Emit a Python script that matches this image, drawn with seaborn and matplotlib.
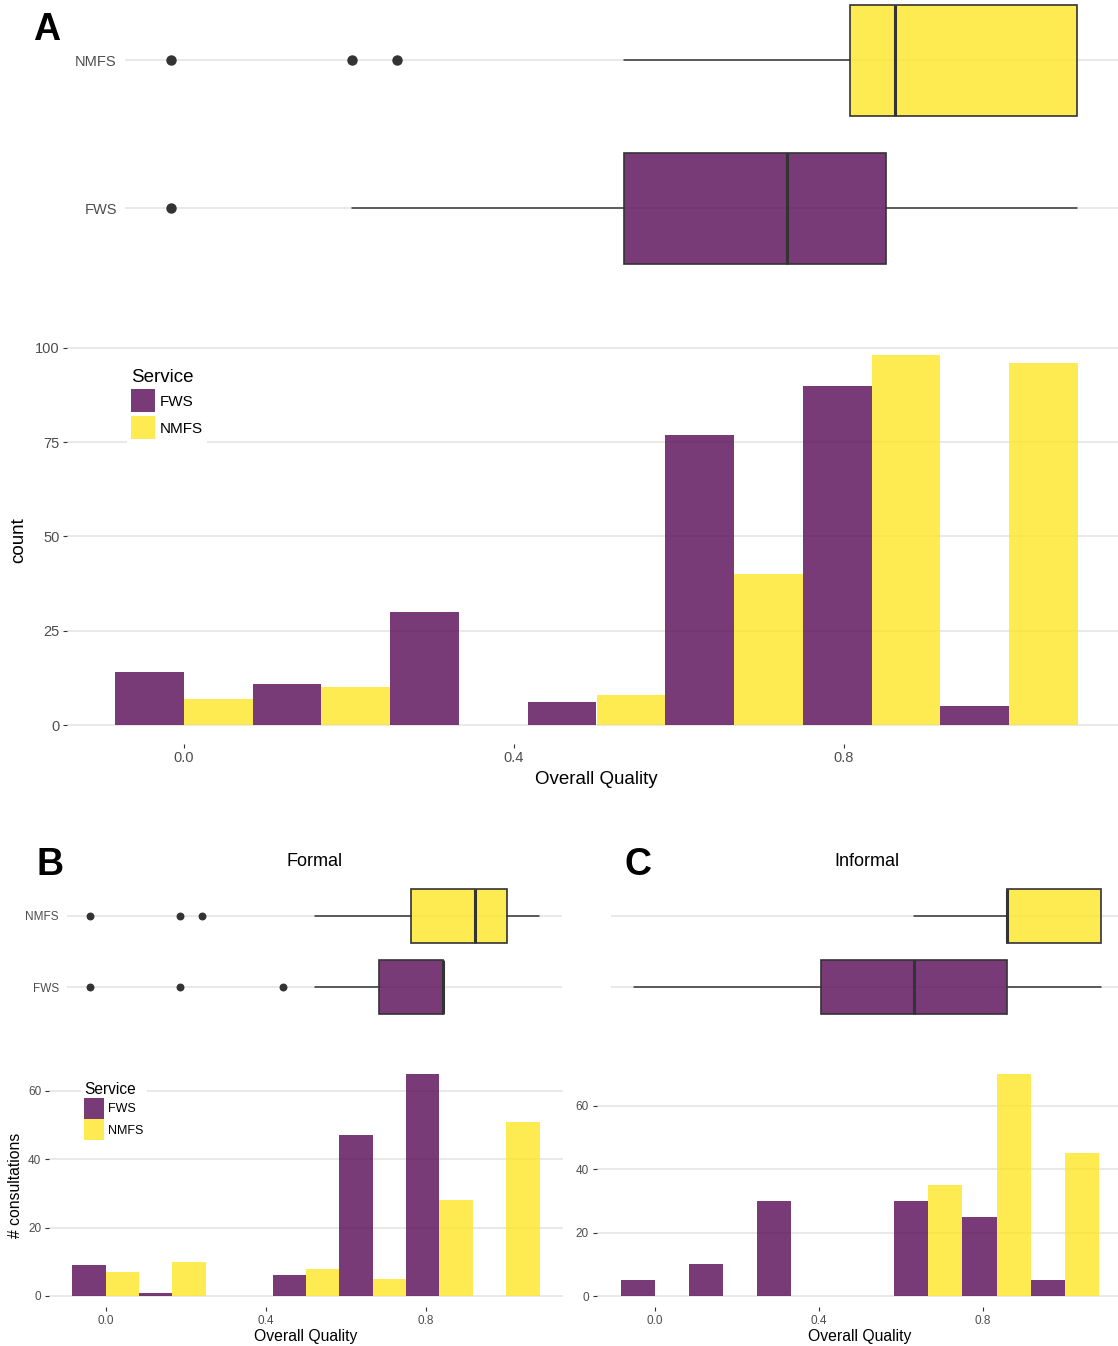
import numpy as np
import pandas as pd
import matplotlib
matplotlib.use("Agg")
import matplotlib.pyplot as plt
from matplotlib.patches import Patch
from matplotlib.colors import to_rgba
import seaborn as sns

# ---------------- data ----------------
services = ["FWS", "NMFS"]
bin_centers = [0, 1 / 6, 2 / 6, 3 / 6, 4 / 6, 5 / 6, 1]

# consultation counts per quality bin
all_fws = [14, 11, 30, 6, 77, 90, 5]
all_nmfs = [7, 10, 0, 8, 40, 98, 96]
formal_fws = [9, 1, 0, 6, 47, 65, 0]
formal_nmfs = [7, 10, 0, 8, 5, 28, 51]
informal_fws = [5, 10, 30, 0, 30, 25, 5]
informal_nmfs = [0, 0, 0, 0, 35, 70, 45]

# box summaries: [lower whisker, Q1, median, Q3, upper whisker]
all_box_fws = [0.20, 0.50, 0.68, 0.79, 1.00]
all_box_nmfs = [0.50, 0.75, 0.80, 1.00, 1.00]
formal_box_fws = [0.50, 0.643, 0.786, 0.786, 0.786]
formal_box_nmfs = [0.50, 0.714, 0.857, 0.929, 1.00]
informal_box_fws = [0.00, 0.40, 0.60, 0.80, 1.00]
informal_box_nmfs = [0.60, 0.80, 0.80, 1.00, 1.00]

# outlying consultations
all_out_fws = [0.0]
all_out_nmfs = [0.0, 0.20, 0.25]
formal_out_fws = [0.0, 0.20, 0.429]
formal_out_nmfs = [0.0, 0.20, 0.25]
informal_out_fws = []
informal_out_nmfs = []

# ---------------- style ----------------
FWS_COLOR = "#570A55"
NMFS_COLOR = "#FDE725"
ALPHA = 0.8
palette = {"FWS": FWS_COLOR, "NMFS": NMFS_COLOR}
GRID = "#E3E3E3"
DARK = "#333333"
TICKTXT = "#4D4D4D"

sns.set_theme(style="white")
plt.rcParams["font.family"] = ["Liberation Sans", "DejaVu Sans"]
plt.rcParams["text.color"] = "black"

W, H = 1118, 1346
fig = plt.figure(figsize=(W / 100, H / 100), dpi=100)


def rect(l, t, r, b):
    return [l / W, 1 - b / H, (r - l) / W, (b - t) / H]


def draw_hist(ax, fws, nmfs, yticks, ymax, tick_fs):
    # one row per consultation, placed at the centre of its quality bin
    q = np.concatenate([np.repeat(bin_centers, fws),
                        np.repeat(bin_centers, nmfs)])
    svc = ["FWS"] * int(sum(fws)) + ["NMFS"] * int(sum(nmfs))
    df = pd.DataFrame({"quality": q, "Service": svc})
    edges = [-1 / 12 + k / 6 for k in range(8)]
    sns.histplot(data=df, x="quality", hue="Service",
                 hue_order=services, palette=palette, bins=edges,
                 multiple="dodge", shrink=1, alpha=ALPHA, linewidth=0,
                 legend=False, ax=ax)
    span = edges[-1] - edges[0]
    ax.set_xlim(edges[0] - 0.05 * span, edges[-1] + 0.05 * span)
    ax.set_ylim(-0.05 * ymax, 1.05 * ymax)
    ax.set_yticks(yticks)
    ax.set_xticks([0, 0.4, 0.8])
    ax.set_xticklabels(["0.0", "0.4", "0.8"])
    for s in ax.spines.values():
        s.set_visible(False)
    ax.grid(False)
    ax.grid(axis="y", color=GRID, linewidth=1.1)
    ax.set_axisbelow(True)
    ax.tick_params(axis="both", length=3, width=0.8, color=DARK,
                   labelsize=tick_fs, labelcolor=TICKTXT, pad=2.5,
                   bottom=True, left=True)
    ax.set_xlabel("")
    ax.set_ylabel("")


def draw_box(ax, fws_stats, nmfs_stats, fws_out, nmfs_out, ms, labels, tick_fs):
    stats = []
    for s, out in ((fws_stats, fws_out), (nmfs_stats, nmfs_out)):
        stats.append(dict(whislo=s[0], q1=s[1], med=s[2], q3=s[3],
                          whishi=s[4], fliers=np.array(out, dtype=float)))
    bp = ax.bxp(stats, positions=[1, 2], widths=0.75,
                orientation="horizontal", patch_artist=True, showcaps=False,
                boxprops=dict(edgecolor=DARK, linewidth=1.2),
                whiskerprops=dict(color=DARK, linewidth=1.1),
                medianprops=dict(color=DARK, linewidth=2.2),
                flierprops=dict(marker="o", markerfacecolor=DARK,
                                markeredgecolor=DARK, markersize=ms,
                                linestyle="none"))
    for patch, col in zip(bp["boxes"], [FWS_COLOR, NMFS_COLOR]):
        patch.set_facecolor(to_rgba(col, ALPHA))
        patch.set_edgecolor(DARK)
    ax.set_xlim(-0.05, 1.05)
    ax.set_ylim(0.4, 2.6)
    ax.set_yticks([1, 2])
    ax.set_yticklabels(labels)
    for s in ax.spines.values():
        s.set_visible(False)
    ax.grid(False)
    ax.grid(axis="y", color=GRID, linewidth=1.1)
    ax.set_axisbelow(True)
    ax.tick_params(axis="y", length=0, labelsize=tick_fs,
                   labelcolor=TICKTXT, pad=6)
    ax.tick_params(axis="x", length=0, labelbottom=False)


def add_legend(ax, x, y, fs, title_fs, hl, hh, ls, tp):
    handles = [Patch(facecolor=to_rgba(palette[s], ALPHA), edgecolor="none",
                     label=s) for s in services]
    leg = ax.legend(handles=handles, title="Service", loc="upper left",
                    bbox_to_anchor=(x / W, 1 - y / H),
                    bbox_transform=fig.transFigure, fontsize=fs,
                    title_fontsize=title_fs, frameon=True, fancybox=False,
                    facecolor="white", edgecolor="none", framealpha=1,
                    handlelength=hl, handleheight=hh, labelspacing=ls,
                    handletextpad=tp, borderpad=0.25, borderaxespad=0)
    leg._legend_box.align = "left"
    for t in leg.get_texts():
        t.set_color("black")
    leg.get_title().set_color("black")
    return leg


# ---------------- panel A ----------------
axA_box = fig.add_axes(rect(125.2, -28.8, 1122, 296.8))
draw_box(axA_box, all_box_fws, all_box_nmfs, all_out_fws, all_out_nmfs,
         ms=6.5, labels=services, tick_fs=10.5)

axA = fig.add_axes(rect(67, 337, 1126, 743.5))
draw_hist(axA, all_fws, all_nmfs, [0, 25, 50, 75, 100], 98, 10.5)
axA.set_xlabel("Overall Quality", fontsize=13.5, color="black")
axA.xaxis.set_label_coords(0.5, (743.5 - 779) / (743.5 - 337))
axA.xaxis.label.set_verticalalignment("center")
axA.set_ylabel("count", fontsize=13.5, color="black")
axA.yaxis.set_label_coords((19 - 67) / (1126 - 67), 0.5)
axA.yaxis.label.set_verticalalignment("center")
add_legend(axA, 127, 365, 11, 13.5, 1.57, 1.94, 0.24, 0.33)

# ---------------- panel B ----------------
axB_box = fig.add_axes(rect(67.3, 873.4, 561.8, 1029.6))
draw_box(axB_box, formal_box_fws, formal_box_nmfs, formal_out_fws,
         formal_out_nmfs, ms=4.7, labels=services, tick_fs=8.5)

axB = fig.add_axes(rect(48.8, 1062.8, 563, 1307.1))
draw_hist(axB, formal_fws, formal_nmfs, [0, 20, 40, 60], 65, 8.5)
axB.set_xlabel("Overall Quality", fontsize=11.3, color="black")
axB.xaxis.set_label_coords(0.5, (1307.1 - 1336) / (1307.1 - 1062.8))
axB.xaxis.label.set_verticalalignment("center")
axB.set_ylabel("# consultations", fontsize=11.3, color="black")
axB.yaxis.set_label_coords((16 - 48.8) / (563 - 48.8), 0.5)
axB.yaxis.label.set_verticalalignment("center")
add_legend(axB, 81, 1079, 9, 11.2, 1.6, 2.2, 0.05, 0.32)

# ---------------- panel C ----------------
axC_box = fig.add_axes(rect(610.5, 873.4, 1124, 1029.6))
draw_box(axC_box, informal_box_fws, informal_box_nmfs, informal_out_fws,
         informal_out_nmfs, ms=4.7, labels=["", ""], tick_fs=8.5)

axC = fig.add_axes(rect(596.7, 1063.2, 1123, 1307.1))
draw_hist(axC, informal_fws, informal_nmfs, [0, 20, 40, 60], 70, 8.5)
axC.set_xlabel("Overall Quality", fontsize=11.3, color="black")
axC.xaxis.set_label_coords(0.5, (1307.1 - 1336) / (1307.1 - 1063.2))
axC.xaxis.label.set_verticalalignment("center")

# ---------------- titles and panel letters ----------------
fig.text(315 / W, 1 - 862 / H, "Formal", fontsize=13, ha="center",
         va="center", color="black")
fig.text(867 / W, 1 - 862 / H, "Informal", fontsize=13, ha="center",
         va="center", color="black")
for letter, x, y in (("A", 47, 30), ("B", 50, 865), ("C", 638, 865)):
    fig.text(x / W, 1 - y / H, letter, fontsize=27, fontweight="bold",
             ha="center", va="center", color="black")

fig.savefig("out.png", dpi=100)
